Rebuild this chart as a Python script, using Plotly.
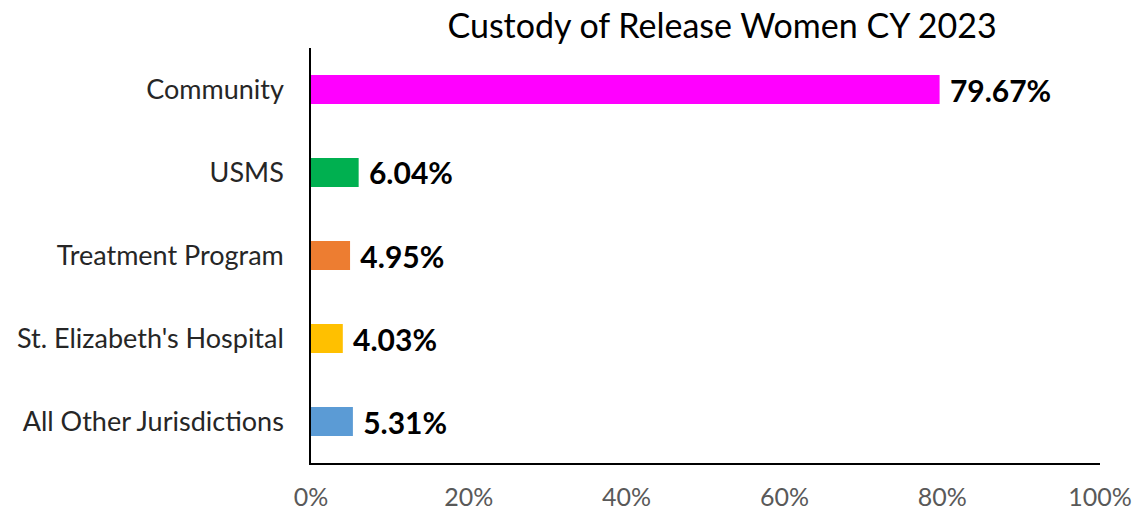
import plotly.graph_objects as go

categories = ["Community", "USMS", "Treatment Program", "St. Elizabeth's Hospital", "All Other Jurisdictions"]
shares = [79.67, 6.04, 4.95, 4.03, 5.31]
colors = ["#FF00FF", "#00B050", "#ED7D31", "#FFC000", "#5B9BD5"]
tick_vals = [0, 20, 40, 60, 80, 100]
tick_text = ["0%", "20%", "40%", "60%", "80%", "100%"]

FONT = "Lato, 'Open Sans', sans-serif"

fig = go.Figure(
    go.Bar(
        x=shares,
        y=categories,
        orientation="h",
        marker=dict(color=colors, line=dict(width=0)),
        width=0.35,
        text=[" " + f"{v:.2f}%" for v in shares],
        textposition="outside",
        constraintext="none",
        textfont=dict(family=FONT, size=30, color="#000000", weight="bold"),
        cliponaxis=False,
        hoverinfo="skip",
    )
)

fig.update_layout(
    width=1135,
    height=512,
    paper_bgcolor="white",
    plot_bgcolor="white",
    margin=dict(l=311, r=35, t=48, b=49),
    showlegend=False,
    font=dict(family=FONT, color="#262626"),
    title=dict(
        text="Custody of Release Women CY 2023",
        x=0.521,
        xref="paper",
        xanchor="center",
        y=0.95,
        yref="container",
        yanchor="middle",
        font=dict(family=FONT, size=34, color="#000000"),
    ),
    xaxis=dict(
        range=[0, 100],
        tickvals=tick_vals,
        ticktext=tick_text,
        showgrid=False,
        zeroline=False,
        showline=True,
        linecolor="#000000",
        linewidth=1.5,
        ticks="",
        ticklabelstandoff=11,
        automargin=False,
        tickfont=dict(family=FONT, size=25, color="#595959"),
        fixedrange=True,
    ),
    yaxis=dict(
        categoryorder="array",
        categoryarray=categories[::-1],
        range=[-0.5, 4.5],
        showgrid=False,
        zeroline=False,
        showline=True,
        linecolor="#000000",
        linewidth=1.5,
        ticks="",
        ticklabelstandoff=20,
        automargin=False,
        tickfont=dict(family=FONT, size=27, color="#262626"),
        fixedrange=True,
    ),
)

fig.write_html(
    "out.html",
    config={"displayModeBar": False},
    post_script="document.body.style.margin='0';",
)
